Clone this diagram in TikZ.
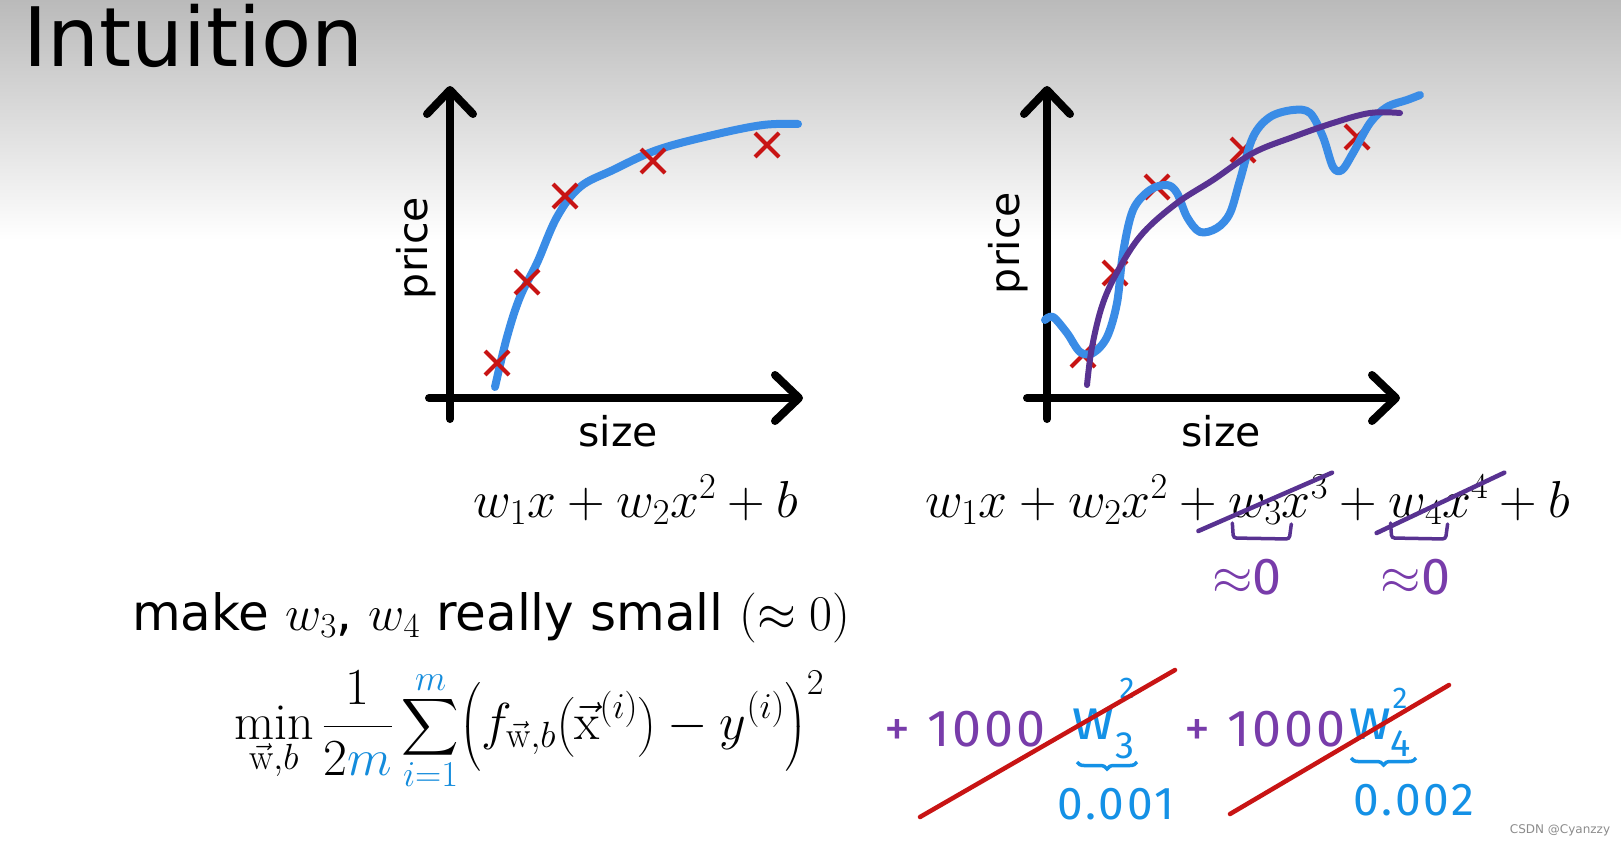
\RequirePackage{fix-cm}
\documentclass[tikz,border=0pt]{standalone}
\usepackage{amsmath}
\usepackage{fontspec}
\newfontfamily\slidefont{DejaVu Sans}
\newfontfamily\handfont{Fira Sans}[LetterSpace=6]
\usetikzlibrary{arrows.meta,positioning,shapes.misc,decorations.pathreplacing}
\definecolor{fitblue}{RGB}{58,140,230}
\definecolor{fitpurple}{RGB}{88,50,145}
\definecolor{crossred}{RGB}{200,20,20}
\definecolor{inkpurple}{RGB}{120,60,170}
\definecolor{inkblue}{RGB}{20,145,230}
\definecolor{mathblue}{RGB}{20,140,220}
\newcommand{\bigsum}{\mathop{\vcenter{\hbox{\scalebox{1.6}{$\displaystyle\sum$}}}}\limits}

\begin{document}
\begin{tikzpicture}[x=1pt, y=-1pt,
  axis/.style={line width=8pt, line cap=round, -{Straight Barb[length=24pt,width=46pt,round]}},
  axlbl/.style={font=\fontsize{41}{48}\selectfont\slidefont, inner sep=0pt},
  eq/.style={font=\fontsize{52}{60}\selectfont, inner sep=0pt, outer sep=0pt},
  datapt/.style={cross out, draw=crossred, line width=4pt, minimum size=20pt, inner sep=0pt},
  bluefit/.style={draw=fitblue, line width=8pt, line cap=round, line join=round},
  purplefit/.style={draw=fitpurple, line width=6pt, line cap=round, line join=round},
  strike/.style={line width=4.5pt, line cap=round},
  bracket/.style={draw=fitpurple, line width=3.5pt, line cap=round, rounded corners=3pt},
  ubrace/.style={draw=inkblue, line width=3.5pt, decorate, decoration={brace, mirror, amplitude=7pt}},
  hand/.style={font=\fontsize{52}{60}\selectfont\handfont, inner sep=0pt}
]
\useasboundingbox (0,0) rectangle (1621,848);
% background
\fill[white] (0,0) rectangle (1621,848);
\shade[top color=black!27, bottom color=white] (0,0) rectangle (1621,240);

\node[anchor=base west, inner sep=0pt, font=\fontsize{82}{90}\selectfont\slidefont] (ttl) at (23,67) {Intuition};

% left plot: axes
\coordinate (ly0) at (450,419);
\coordinate (ly1) at (450,86);
\coordinate (lx0) at (429,398);
\coordinate (lx1) at (803,398);
\draw[axis] (ly0) -- (ly1);
\draw[axis] (lx0) -- (lx1);
\node[axlbl, rotate=90] (lprice) at (416,248) {price};
\node[axlbl] (lsize) at (618,431) {size};

% left plot: fit and data
\draw[bluefit] plot[smooth, tension=0.6] coordinates {(495,387) (507,337) (520,297) (537,263) (557,217) (580,187) (613,170) (657,150) (713,135) (763,125) (798,124)};
\foreach \p [count=\i] in {(497,363),(527,282),(565,196),(653,161),(767,145)}
  \node[datapt] (ld\i) at \p {};

\node[eq, anchor=base] (leq) at (636,517) {$w_1x+w_2x^2+b$};

% right plot: axes
\coordinate (ry0) at (1047,419);
\coordinate (ry1) at (1047,86);
\coordinate (rx0) at (1027,398);
\coordinate (rx1) at (1400,398);
\draw[axis] (ry0) -- (ry1);
\draw[axis] (rx0) -- (rx1);
\node[axlbl, rotate=90] (rprice) at (1008,243) {price};
\node[axlbl] (rsize) at (1221,431) {size};

% right plot: overfit, data, good fit
\foreach \p [count=\i] in {(1083,355),(1115,273),(1157,187),(1243,150),(1357,137)}
  \node[datapt] (rd\i) at \p {};
\draw[bluefit] plot[smooth, tension=0.55] coordinates {(1045,320) (1053,317) (1067,333) (1080,352) (1093,353) (1107,337) (1117,303) (1123,253) (1133,210) (1150,190) (1167,185) (1177,193) (1187,217) (1200,232) (1217,228) (1230,213) (1240,180) (1253,137) (1270,117) (1293,110) (1310,113) (1323,137) (1333,167) (1342,170) (1353,153) (1370,123) (1387,107) (1407,100) (1420,95)};
\draw[purplefit] plot[smooth, tension=0.6] coordinates {(1087,385) (1092,347) (1103,303) (1120,267) (1143,233) (1177,203) (1213,180) (1253,153) (1293,137) (1333,123) (1370,113) (1400,113)};

% right equation
\node[eq, anchor=base west] (r1) at (925,517) {$w_1x+w_2x^2+{}$};
\node[eq, anchor=base west] (rw3) at (r1.base east) {$w_3$};
\node[eq, anchor=base west] (rx3) at (rw3.base east) {$x^3$};
\node[eq, anchor=base west] (rp) at (rx3.base east) {${}+{}$};
\node[eq, anchor=base west] (rw4) at (rp.base east) {$w_4$};
\node[eq, anchor=base west] (rx4) at (rw4.base east) {$x^4$};
\node[eq, anchor=base west] (rb) at (rx4.base east) {${}+b$};

\draw[strike, fitpurple] ([xshift=-30pt,yshift=-14pt]rw3.base west) -- ([xshift=4pt,yshift=2pt]rx3.north east);
\draw[strike, fitpurple] ([xshift=-12pt,yshift=-16pt]rw4.base west) -- ([xshift=16pt,yshift=2pt]rx4.north east);
\draw[bracket] ([xshift=4pt,yshift=-6pt]rw3.base west) -- ++(1,15) -- ++(56,1) -- ++(2,-15);
\draw[bracket] ([xshift=2pt,yshift=-6pt]rw4.base west) -- ++(1,15) -- ++(54,1) -- ++(2,-15);
\node[hand, text=inkpurple] (z3) at ([xshift=-8pt,yshift=-60pt]rw3.base) {$\approx$0};
\node[hand, text=inkpurple] (z4) at ([xshift=0pt,yshift=-60pt]rw4.base) {$\approx$0};

% cost with regularisation
\node[anchor=base west, inner sep=0pt, font=\fontsize{50}{56}\selectfont\slidefont] (mk) at (132,630) {make $w_3$, $w_4$ really small $(\approx 0)$};
\node[eq, anchor=west] (cost) at (234,730)
  {$\displaystyle\min_{\vec{\mathrm{w}},b}\frac{1}{2\textcolor{mathblue}{m}}\bigsum_{\textcolor{mathblue}{i=1}}^{\textcolor{mathblue}{m}}\Bigl(f_{\vec{\mathrm{w}},b}\bigl(\vec{\mathrm{x}}^{(i)}\bigr)-y^{(i)}\Bigr)^{2}$};

\node[hand, text=inkpurple, anchor=base west] (k3) at (884,746) {+ 1000};
\node[hand, text=inkblue, font=\fontsize{58}{64}\selectfont\handfont] (w3) at (1093,724) {w};
\node[hand, text=inkblue, font=\fontsize{38}{42}\selectfont\handfont] (s3) at (1125,746) {3};
\node[hand, text=inkblue, font=\fontsize{30}{36}\selectfont\handfont] (q3) at (1127,688) {2};
\node[hand, text=inkpurple, anchor=base west] (k4) at (1184,746) {+ 1000};
\node[hand, text=inkblue, font=\fontsize{58}{64}\selectfont\handfont] (w4) at (1370,724) {w};
\node[hand, text=inkblue, font=\fontsize{38}{42}\selectfont\handfont] (s4) at (1401,744) {4};
\node[hand, text=inkblue, font=\fontsize{30}{36}\selectfont\handfont] (q4) at (1400,698) {2};

\draw[ubrace] (1077,762) -- (1137,762);
\draw[ubrace] (1351,758) -- (1416,758);
\node[hand, text=inkblue, font=\fontsize{46}{52}\selectfont\handfont] (v3) at (1116,804) {0.001};
\node[hand, text=inkblue, font=\fontsize{46}{52}\selectfont\handfont] (v4) at (1414,800) {0.002};

\draw[strike, crossred] (920,817) -- (1175,670);
\draw[strike, crossred] (1230,814) -- (1449,685);

\node[font=\fontsize{12}{14}\selectfont\slidefont, text=black!45] (wm) at (1560,830) {CSDN @Cyanzzy};
\end{tikzpicture}
\end{document}
